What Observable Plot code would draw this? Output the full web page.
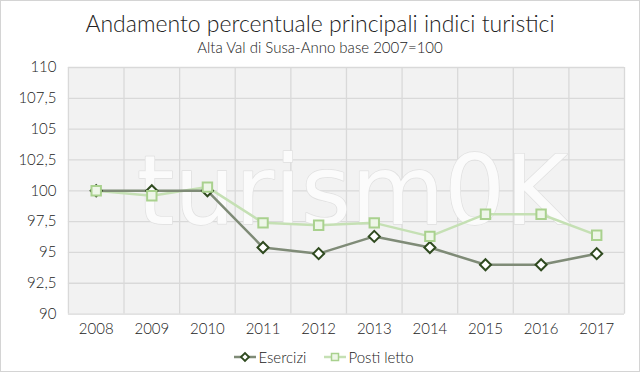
<!DOCTYPE html>
<html>
<head>
<meta charset="utf-8">
<script src="https://cdn.jsdelivr.net/npm/d3@7"></script>
<script src="https://cdn.jsdelivr.net/npm/@observablehq/plot@0.6"></script>
<style>
  html, body { margin: 0; padding: 0; background: #fff; }
  #wrap { width: 640px; height: 372px; box-sizing: border-box; border: 1px solid #d4d4d4; position: relative; overflow: hidden; font-family: "Lato", "Open Sans", sans-serif; font-weight: 300; color: #222; }
  #title { position: absolute; top: 8px; left: 0; width: 100%; text-align: center; font-size: 23px; line-height: 28px; }
  #subtitle { position: absolute; top: 36px; left: 0; width: 100%; text-align: center; font-size: 15px; line-height: 20px; }
  #chart { position: absolute; top: 57px; left: -1px; }
  #legend { position: absolute; top: 346px; left: 0; width: 100%; display: flex; justify-content: center; gap: 18px; font-size: 15px; line-height: 20px; padding-left: 8px; box-sizing: border-box; }
  #legend span.item { display: inline-flex; align-items: center; gap: 2px; }
  #legend svg { display: block; }
</style>
</head>
<body>
<div id="wrap">
  <div id="title">Andamento percentuale principali indici turistici</div>
  <div id="subtitle">Alta Val di Susa-Anno base 2007=100</div>
  <div id="chart"></div>
  <div id="legend"></div>
</div>
<script>
const years = [2008, 2009, 2010, 2011, 2012, 2013, 2014, 2015, 2016, 2017];
const esercizi = [100, 100, 100, 95.4, 94.9, 96.3, 95.4, 94.0, 94.0, 94.9];
const postiLetto = [100, 99.6, 100.3, 97.4, 97.2, 97.4, 96.3, 98.1, 98.1, 96.4];
const yTicks = [90, 92.5, 95, 97.5, 100, 102.5, 105, 107.5, 110];
const seriesNames = ["Esercizi", "Posti letto"];
const lineColors = ["#7f8b77", "#c5e0b4"];
const markStroke = ["#2f4a1f", "#a9d18e"];
const markFill = ["#ffffff", "#eef6e8"];

const dataE = years.map((year, i) => ({year, value: esercizi[i]}));
const dataP = years.map((year, i) => ({year, value: postiLetto[i]}));
const bounds = [years[0] - 0.5, ...years.map(y => y + 0.5)];

const fmt = d => String(d).replace(".", ",");

const chart = Plot.plot({
  width: 640,
  height: 283,
  marginTop: 9,
  marginBottom: 27,
  marginLeft: 68,
  marginRight: 15,
  style: { fontFamily: "Lato, 'Open Sans', sans-serif", fontWeight: 300, fontSize: "15px", color: "#222", background: "transparent" },
  x: { domain: [years[0] - 0.5, years[years.length - 1] + 0.5], ticks: years, tickFormat: d => String(d), tickSize: 0, tickPadding: 9, label: null },
  y: { domain: [90, 110], ticks: yTicks, tickFormat: fmt, tickSize: 0, tickPadding: 12, label: null },
  marks: [
    Plot.frame({ fill: "#f2f2f2", stroke: null }),
    Plot.ruleY(yTicks, { stroke: "#d9d9d9", strokeWidth: 1.3 }),
    Plot.ruleX(bounds, { stroke: "#d9d9d9", strokeWidth: 1.3 }),
    Plot.text(["turism0K"], { frameAnchor: "middle", dx: 6, dy: 3, fontSize: 96, fontFamily: "'DejaVu Sans', sans-serif", fill: "#fbfbfb", stroke: "#e0e0e0", strokeWidth: 1.5, fontWeight: 400, letterSpacing: 17 }),
    Plot.line(dataP, { x: "year", y: "value", stroke: lineColors[1], strokeWidth: 2.5 }),
    Plot.line(dataE, { x: "year", y: "value", stroke: lineColors[0], strokeWidth: 2.5 }),
    Plot.dot(dataE, { x: "year", y: "value", symbol: "diamond2", r: 5, stroke: markStroke[0], fill: markFill[0], strokeWidth: 2 }),
    Plot.dot(dataP, { x: "year", y: "value", symbol: "square2", r: 6, stroke: markStroke[1], fill: markFill[1], strokeWidth: 2 })
  ]
});
document.getElementById("chart").appendChild(chart);

const legend = document.getElementById("legend");
seriesNames.forEach((name, i) => {
  const item = document.createElement("span");
  item.className = "item";
  const sym = i === 0
    ? `<path d="M7,10 L11,6 L15,10 L11,14 Z" fill="${markFill[0]}" stroke="${markStroke[0]}" stroke-width="1.8"/>`
    : `<rect x="7.5" y="6.5" width="7" height="7" fill="${markFill[1]}" stroke="${markStroke[1]}" stroke-width="1.5"/>`;
  item.innerHTML = `<svg width="22" height="20"><line x1="0" y1="10" x2="22" y2="10" stroke="${lineColors[i]}" stroke-width="2.5"/>${sym}</svg><span>${name}</span>`;
  legend.appendChild(item);
});
</script>
</body>
</html>
